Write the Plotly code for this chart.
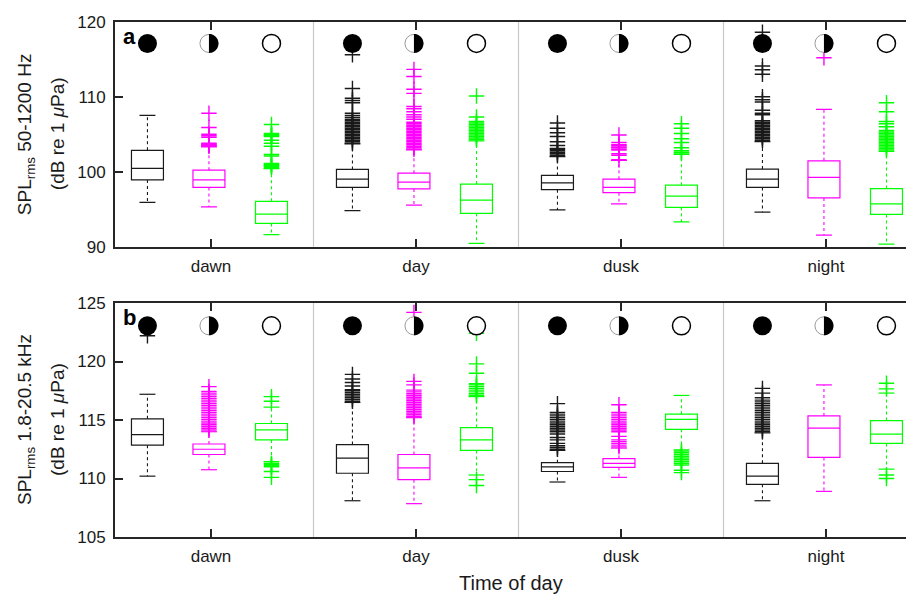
import plotly.graph_objects as go
import numpy as np

# ---------------- data ----------------
groups = ["dawn", "day", "dusk", "night"]
phases = ["new moon", "quarter", "full moon"]
phase_colors = ["#1a1a1a", "#ff00ff", "#00ff00"]

# Panel a: SPLrms 50-1200 Hz  (per phase, values for dawn, day, dusk, night)
a_lo  = [[95.9, 94.8, 94.9, 94.6], [95.3, 95.55, 95.7, 91.55], [91.6, 90.45, 93.3, 90.35]]
a_q1  = [[98.9, 97.9, 97.6, 97.9], [97.9, 97.7, 97.2, 96.5], [93.1, 94.45, 95.25, 94.3]]
a_med = [[100.45, 99.0, 98.5, 99.0], [98.9, 98.6, 97.9, 99.25], [94.35, 96.2, 96.75, 95.7]]
a_q3  = [[102.85, 100.3, 99.5, 100.35], [100.2, 99.8, 99.0, 101.45], [96.05, 98.35, 98.2, 97.75]]
a_hi  = [[107.5, 103.7, 102.0, 104.0], [103.3, 102.9, 101.5, 108.3], [100.4, 104.1, 102.3, 102.7]]

a_out_new = [
    [],
    [103.8, 104.0, 104.2, 104.4, 104.6, 104.8, 105.0, 105.2, 105.4, 105.6, 105.8, 106.0, 106.2, 106.4,
     106.6, 106.8, 107.0, 107.25, 107.5, 107.8, 109.2, 109.5, 109.8, 111.1, 115.6],
    [102.2, 102.4, 102.6, 102.8, 103.0, 103.1, 103.5, 104.0, 104.7, 105.2, 105.8, 106.5],
    [104.2, 104.4, 104.6, 104.8, 105.0, 105.2, 105.4, 105.6, 105.8, 106.0, 106.2, 106.4, 106.6, 106.8,
     107.6, 107.8, 108.2, 109.3, 109.6, 110.0, 113.0, 113.6, 114.1, 117.4, 118.6],
]
a_out_qtr = [
    [103.4, 103.5, 103.6, 103.7, 103.8, 104.6, 104.8, 105.0, 105.9, 107.8],
    [103.0, 103.2, 103.4, 103.6, 103.8, 104.0, 104.2, 104.4, 104.6, 104.8, 105.0, 105.2, 105.4, 105.6,
     105.8, 106.0, 106.2, 106.4, 106.6, 107.0, 107.3, 107.6, 108.0, 108.4, 108.7, 110.45, 111.0, 112.7, 113.65],
    [101.6, 102.2, 102.4, 102.9, 103.0, 103.2, 103.3, 103.5, 103.6, 103.9, 104.9],
    [115.2],
]
a_out_full = [
    [100.6, 100.7, 100.8, 100.9, 101.0, 101.1, 102.1, 102.3, 103.4, 103.8, 104.2, 104.7, 104.8, 104.9,
     105.0, 105.1, 106.3],
    [104.3, 104.5, 104.7, 104.9, 105.1, 105.3, 105.5, 105.7, 105.9, 106.1, 106.3, 106.5, 106.7, 107.3, 110.1],
    [102.5, 102.6, 102.8, 103.2, 103.9, 104.4, 105.1, 105.8, 106.4],
    [102.9, 103.1, 103.3, 103.5, 103.7, 103.9, 104.1, 104.3, 104.5, 104.7, 104.9, 105.1, 105.3, 105.5,
     106.0, 106.4, 106.7, 108.0, 109.2],
]

# Panel b: SPLrms 1.8-20.5 kHz
b_lo  = [[110.2, 108.1, 109.7, 108.1], [110.75, 107.85, 110.1, 108.9], [111.45, 110.3, 112.45, 110.8]]
b_q1  = [[112.85, 110.45, 110.6, 109.5], [112.05, 109.9, 110.95, 111.8], [113.3, 112.4, 114.2, 113.0]]
b_med = [[113.75, 111.75, 111.0, 110.2], [112.5, 110.9, 111.3, 114.3], [114.15, 113.3, 115.05, 113.8]]
b_q3  = [[115.1, 112.9, 111.35, 111.3], [112.95, 112.05, 111.7, 115.35], [114.7, 114.35, 115.5, 114.95]]
b_hi  = [[117.2, 116.5, 112.4, 113.9], [114.0, 115.2, 112.6, 118.0], [116.1, 117.0, 117.1, 117.3]]

b_out_new = [
    [122.2],
    [116.6, 116.75, 116.9, 117.05, 117.2, 117.35, 117.5, 117.6, 117.9, 118.2, 118.5, 118.9],
    [112.5, 112.65, 112.8, 113.0, 113.3, 113.5, 113.8, 114.0, 114.15, 114.3, 114.45, 114.6, 114.75,
     114.9, 115.05, 115.2, 115.35, 115.5, 115.65, 116.4],
    [114.0, 114.15, 114.3, 114.45, 114.6, 114.75, 114.9, 115.05, 115.2, 115.35, 115.5, 115.65, 115.8,
     115.95, 116.1, 116.25, 116.4, 116.55, 116.7, 116.9, 117.3, 117.7],
]
b_out_qtr = [
    [114.15, 114.3, 114.45, 114.6, 114.75, 114.9, 115.05, 115.2, 115.35, 115.5, 115.65, 115.8, 115.95,
     116.1, 116.25, 116.4, 116.55, 116.7, 116.85, 117.0, 117.15, 117.3, 117.45, 117.85],
    [115.3, 115.45, 115.6, 115.75, 115.9, 116.05, 116.2, 116.35, 116.5, 116.65, 116.8, 116.95, 117.1,
     117.25, 117.4, 117.55, 118.0, 118.3, 124.2],
    [112.7, 112.85, 113.0, 113.15, 113.3, 113.6, 114.0, 114.15, 114.3, 114.45, 114.6, 114.75, 114.9,
     115.05, 115.2, 115.35, 115.5, 115.65, 116.3],
    [],
]
b_out_full = [
    [110.1, 110.6, 111.0, 111.1, 111.2, 111.3, 116.6, 117.0],
    [109.4, 109.9, 117.1, 117.25, 117.4, 117.55, 117.7, 117.85, 118.0, 118.1, 119.0, 119.8, 122.4],
    [110.5, 110.7, 111.15, 111.3, 111.45, 111.6, 111.75, 111.9, 112.05, 112.2, 112.35],
    [110.0, 110.3, 117.66, 118.14],
]

a_ticks = [90, 100, 110, 120]
b_ticks = [105, 110, 115, 120, 125]
a_moon_level = 117.1
b_moon_level = 123.05

# ---------------- layout helpers ----------------
group_pos = np.arange(len(groups), dtype=float)
phase_offset = [-0.31, -0.01, 0.295]
box_w = 0.156
AX = "#262626"
FONT = "Liberation Sans, Arial, Helvetica, sans-serif"

fig = go.Figure()


def add_panel(xa, ya, lo, q1, med, q3, hi, outs, moon_y):
    for p in range(3):
        col = phase_colors[p]
        xs = group_pos + phase_offset[p]
        # dashed whiskers
        wx, wy = [], []
        for i, x in enumerate(xs):
            wx += [x, x, None, x, x, None]
            wy += [q3[p][i], hi[p][i], None, q1[p][i], lo[p][i], None]
        fig.add_trace(go.Scatter(x=wx, y=wy, mode="lines", xaxis=xa, yaxis=ya,
                                 line=dict(color=col, width=1.1, dash="3px,3px"),
                                 showlegend=False, hoverinfo="skip"))
        # whisker caps
        fig.add_trace(go.Scatter(x=list(xs) + list(xs), y=list(hi[p]) + list(lo[p]), mode="markers",
                                 xaxis=xa, yaxis=ya,
                                 marker=dict(symbol="line-ew", size=11.4, color=col,
                                             line=dict(color=col, width=1.2)),
                                 showlegend=False, hoverinfo="skip"))
        # boxes
        fig.add_trace(go.Box(x=list(xs), q1=q1[p], median=med[p], q3=q3[p],
                             lowerfence=q1[p], upperfence=q3[p], width=box_w,
                             xaxis=xa, yaxis=ya, line=dict(color=col, width=1.2),
                             fillcolor="rgba(255,255,255,0)", whiskerwidth=0,
                             name=phases[p], showlegend=False, boxpoints=False))
        # outliers
        ox, oy = [], []
        for i, vals in enumerate(outs[p]):
            ox += [xs[i]] * len(vals)
            oy += vals
        fig.add_trace(go.Scatter(x=ox, y=oy, mode="markers", xaxis=xa, yaxis=ya,
                                 marker=dict(symbol="cross-thin", size=11,
                                             line=dict(color=col, width=1.4)),
                                 showlegend=False, hoverinfo="skip"))
    # moon phase symbols
    for p in range(3):
        xs = group_pos + phase_offset[p]
        if p == 0:
            mk = dict(symbol="circle", size=19, color="black", line=dict(color="black", width=0))
        elif p == 1:
            mk = dict(symbol="circle", size=18, color="white", line=dict(color="#9a9a9a", width=1))
        else:
            mk = dict(symbol="circle", size=18, color="white", line=dict(color="black", width=1.5))
        fig.add_trace(go.Scatter(x=list(xs), y=[moon_y] * len(xs), mode="markers", xaxis=xa, yaxis=ya,
                                 marker=mk, showlegend=False, hoverinfo="skip"))
    # right half black for quarter moon
    r = 9.5
    t = np.linspace(-np.pi / 2, np.pi / 2, 25)
    path = "M " + " L ".join(f"{r*np.cos(a):.2f},{r*np.sin(a):.2f}" for a in t) + " Z"
    for x in group_pos + phase_offset[1]:
        fig.add_shape(type="path", xref=xa, yref=ya, xsizemode="pixel", ysizemode="pixel",
                      xanchor=x, yanchor=moon_y, path=path, fillcolor="black",
                      line=dict(width=0))
    # separators
    for k in range(len(groups) - 1):
        fig.add_shape(type="line", xref=xa, yref=f"{ya} domain", x0=k + 0.5, x1=k + 0.5, y0=0, y1=1,
                      line=dict(color="#c8c8c8", width=1.2), layer="below")


add_panel("x", "y", a_lo, a_q1, a_med, a_q3, a_hi, [a_out_new, a_out_qtr, a_out_full], a_moon_level)
add_panel("x2", "y2", b_lo, b_q1, b_med, b_q3, b_hi, [b_out_new, b_out_qtr, b_out_full], b_moon_level)

W, H = 906, 594
L = 115
xr = [-96 / 205.0, (W - 211) / 205.0]

common_x = dict(range=xr, tickvals=list(group_pos), ticktext=groups, ticks="inside", ticklen=8,
                tickwidth=2, tickcolor=AX, showline=True, linewidth=2, linecolor=AX, mirror="ticks",
                showgrid=False, zeroline=False, tickfont=dict(size=17, color="#1a1a1a", family=FONT),
                ticklabelstandoff=3)
common_y = dict(ticks="inside", ticklen=8, tickwidth=2, tickcolor=AX, showline=True, linewidth=2,
                linecolor=AX, showgrid=False, zeroline=False,
                tickfont=dict(size=17, color="#1a1a1a", family=FONT), ticklabelstandoff=4)

fig.update_layout(
    width=W, height=H, margin=dict(l=L, r=0, t=0, b=0, autoexpand=False),
    paper_bgcolor="white", plot_bgcolor="white", boxmode="overlay",
    font=dict(family=FONT, color="#1a1a1a"),
    xaxis=dict(domain=[0, 1], anchor="y", **common_x),
    yaxis=dict(domain=[1 - 246.7 / H, 1 - 21.7 / H], anchor="x", range=[90, 120], tickvals=a_ticks, **common_y),
    xaxis2=dict(domain=[0, 1], anchor="y2", **common_x),
    yaxis2=dict(domain=[1 - 537 / H, 1 - 303 / H], anchor="x2", range=[105, 125], tickvals=b_ticks, **common_y),
)

PW = W - L
ann = [
    dict(text="<b>a</b>", xref="x domain", yref="y domain", x=0.008, y=1.0, xanchor="left", yanchor="top",
         showarrow=False, font=dict(size=22, color="black")),
    dict(text="<b>b</b>", xref="x2 domain", yref="y2 domain", x=0.008, y=1.0, xanchor="left", yanchor="top",
         showarrow=False, font=dict(size=22, color="black")),
    dict(text="SPL<sub>rms</sub> 50-1200 Hz", xref="paper", yref="y domain", x=(26 - L) / PW, y=0.5,
         textangle=-90, showarrow=False, font=dict(size=19), xanchor="center", yanchor="middle"),
    dict(text="(dB re 1 <i>μ</i>Pa)", xref="paper", yref="y domain", x=(57 - L) / PW, y=0.5,
         textangle=-90, showarrow=False, font=dict(size=19), xanchor="center", yanchor="middle"),
    dict(text="SPL<sub>rms</sub> 1.8-20.5 kHz", xref="paper", yref="y2 domain", x=(26 - L) / PW, y=0.5,
         textangle=-90, showarrow=False, font=dict(size=19), xanchor="center", yanchor="middle"),
    dict(text="(dB re 1 <i>μ</i>Pa)", xref="paper", yref="y2 domain", x=(57 - L) / PW, y=0.5,
         textangle=-90, showarrow=False, font=dict(size=19), xanchor="center", yanchor="middle"),
    dict(text="Time of day", xref="paper", yref="paper", x=0.5, y=1 - 583 / H, xanchor="center",
         yanchor="middle", showarrow=False, font=dict(size=20)),
]
fig.update_layout(annotations=ann)

fig.write_html("out.html")
